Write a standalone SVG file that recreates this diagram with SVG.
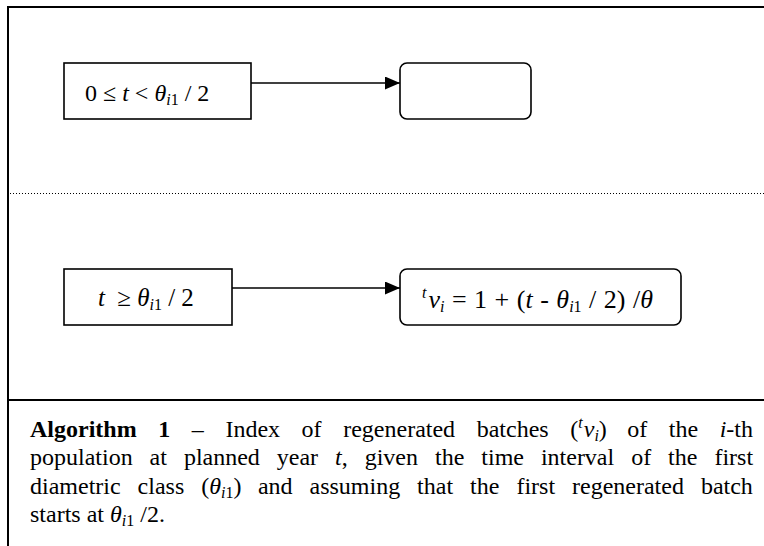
<svg xmlns="http://www.w3.org/2000/svg" width="764" height="546" viewBox="0 0 764 546">
  <defs>
    <marker id="arrow" markerWidth="15" markerHeight="13" refX="15" refY="6.5" orient="auto" markerUnits="userSpaceOnUse">
      <path d="M0,0 L15,6.5 L0,13 Z" fill="#000"/>
    </marker>
  </defs>
  <style>
    .frame{stroke:#000;stroke-width:2;fill:none}
    .dots{stroke:#000;stroke-width:1;stroke-dasharray:1 2;fill:none}
    .box{fill:#fff;stroke:#000;stroke-width:1.6}
    .link{stroke:#000;stroke-width:1.6;fill:none}
    .math{font-family:"Liberation Serif","Times New Roman",serif;font-size:24px;fill:#000}
    .m25{font-size:25px}
    .m26{font-size:26px;word-spacing:1px}
    .cap{font-family:"Liberation Serif","Times New Roman",serif;font-size:24px;fill:#000}
    .it{font-style:italic}
    .sub{font-size:16px}
    .csub{font-size:16px}
    .b{font-weight:bold}
  </style>

  <rect x="0" y="0" width="764" height="546" fill="#fff"/>

  <!-- outer frame, caption separator and dotted case divider -->
  <g id="frame">
    <path class="frame" d="M8,546 V7 H764"/>
    <line class="frame" x1="8" y1="400" x2="764" y2="400"/>
    <line class="dots" x1="10" y1="193.5" x2="764" y2="193.5"/>
  </g>

  <!-- connectors -->
  <g id="connectors">
    <line class="link" x1="251" y1="83" x2="400" y2="83" marker-end="url(#arrow)"/>
    <line class="link" x1="232" y1="288" x2="400" y2="288" marker-end="url(#arrow)"/>
  </g>

  <!-- case 1: before first batch -->
  <g id="cond1">
    <rect class="box" x="64" y="63" width="187" height="56"/>
    <text class="math" x="85" y="101">0 ≤ <tspan class="it">t</tspan> &lt; <tspan class="it">θ</tspan><tspan class="sub it" dy="4">i</tspan><tspan class="sub">1</tspan><tspan dy="-4"> / 2</tspan></text>
  </g>
  <g id="result1">
    <rect class="box" x="400" y="63" width="131" height="56" rx="7"/>
  </g>

  <!-- case 2: after first batch -->
  <g id="cond2">
    <rect class="box" x="64" y="269" width="168" height="56"/>
    <text class="math m25" x="98" y="306"><tspan class="it">t</tspan><tspan dx="6"> ≥ </tspan><tspan class="it">θ</tspan><tspan class="sub it" dy="4">i</tspan><tspan class="sub">1</tspan><tspan dy="-4"> / 2</tspan></text>
  </g>
  <g id="result2">
    <rect class="box" x="400" y="269" width="281" height="56" rx="7"/>
    <text class="math m26" x="422" y="308"><tspan class="sub it" dy="-10">t</tspan><tspan class="it" dy="10" dx="2">ν</tspan><tspan class="sub it" dy="4">i</tspan><tspan dy="-4"> = 1 + (</tspan><tspan class="it">t</tspan> - <tspan class="it">θ</tspan><tspan class="sub it" dy="4">i</tspan><tspan class="sub">1</tspan><tspan dy="-4"> / 2) /</tspan><tspan class="it">θ</tspan></text>
  </g>

  <!-- caption, justified word by word -->
  <g id="caption">
    <text class="cap" y="436.5"><tspan x="30" class="b">Algorithm</tspan><tspan x="158.2" class="b">1</tspan><tspan x="191.8">–</tspan><tspan x="225.4">Index</tspan><tspan x="301.6">of</tspan><tspan x="343.2">regenerated</tspan><tspan x="476.7">batches</tspan><tspan x="570.3">(</tspan><tspan class="csub it" dy="-9">t</tspan><tspan class="it" dy="9" dx="1">ν</tspan><tspan class="csub it" dy="4">i</tspan><tspan dy="-4">)</tspan><tspan x="627.3">of</tspan><tspan x="668.8">the</tspan><tspan x="719.7" class="it">i</tspan><tspan>-th</tspan></text>
    <text class="cap" y="465"><tspan x="30">population</tspan><tspan x="149.6">at</tspan><tspan x="183.9">planned</tspan><tspan x="276.8">year</tspan><tspan x="335.1" class="it">t</tspan><tspan>,</tspan><tspan x="364.7">given</tspan><tspan x="435">the</tspan><tspan x="481.3">time</tspan><tspan x="540.9">interval</tspan><tspan x="631.2">of</tspan><tspan x="668.1">the</tspan><tspan x="714.4">first</tspan></text>
    <text class="cap" y="493.5"><tspan x="30">diametric</tspan><tspan x="137.6">class</tspan><tspan x="201.2">(</tspan><tspan class="it">θ</tspan><tspan class="csub it" dy="4">i</tspan><tspan class="csub">1</tspan><tspan dy="-4">)</tspan><tspan x="257.9">and</tspan><tspan x="309.5">assuming</tspan><tspan x="417.1">that</tspan><tspan x="470.1">the</tspan><tspan x="516.4">first</tspan><tspan x="572">regenerated</tspan><tspan x="700.9">batch</tspan></text>
    <text class="cap" x="30" y="522">starts at <tspan class="it">θ</tspan><tspan class="csub it" dy="4">i</tspan><tspan class="csub">1</tspan><tspan dy="-4"> /2.</tspan></text>
  </g>
</svg>
